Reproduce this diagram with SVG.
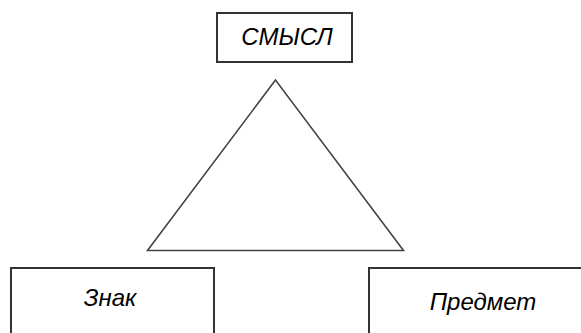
<svg xmlns="http://www.w3.org/2000/svg" width="581" height="333" viewBox="0 0 581 333">
<style>
.box{fill:#fff;stroke:#333;stroke-width:2}
.tri{fill:none;stroke:#444;stroke-width:1.6;stroke-linejoin:miter}
.lbl{font-family:"Liberation Sans",Arial,sans-serif;font-style:italic;font-size:24px;fill:#000;text-anchor:middle}
</style>
<rect width="581" height="333" fill="#fff"/>
<g id="connectors">
<polygon class="tri" points="275.5,80 147.5,250.5 403.5,250.5"/>
</g>
<g id="smysl">
<rect class="box" x="217" y="13" width="135" height="49"/>
<text class="lbl" x="287" y="45">СМЫСЛ</text>
</g>
<g id="znak">
<rect class="box" x="11" y="268" width="203" height="70"/>
<text class="lbl" x="110" y="306">Знак</text>
</g>
<g id="predmet">
<rect class="box" x="369" y="268" width="220" height="70"/>
<text class="lbl" x="483" y="310">Предмет</text>
</g>
</svg>
